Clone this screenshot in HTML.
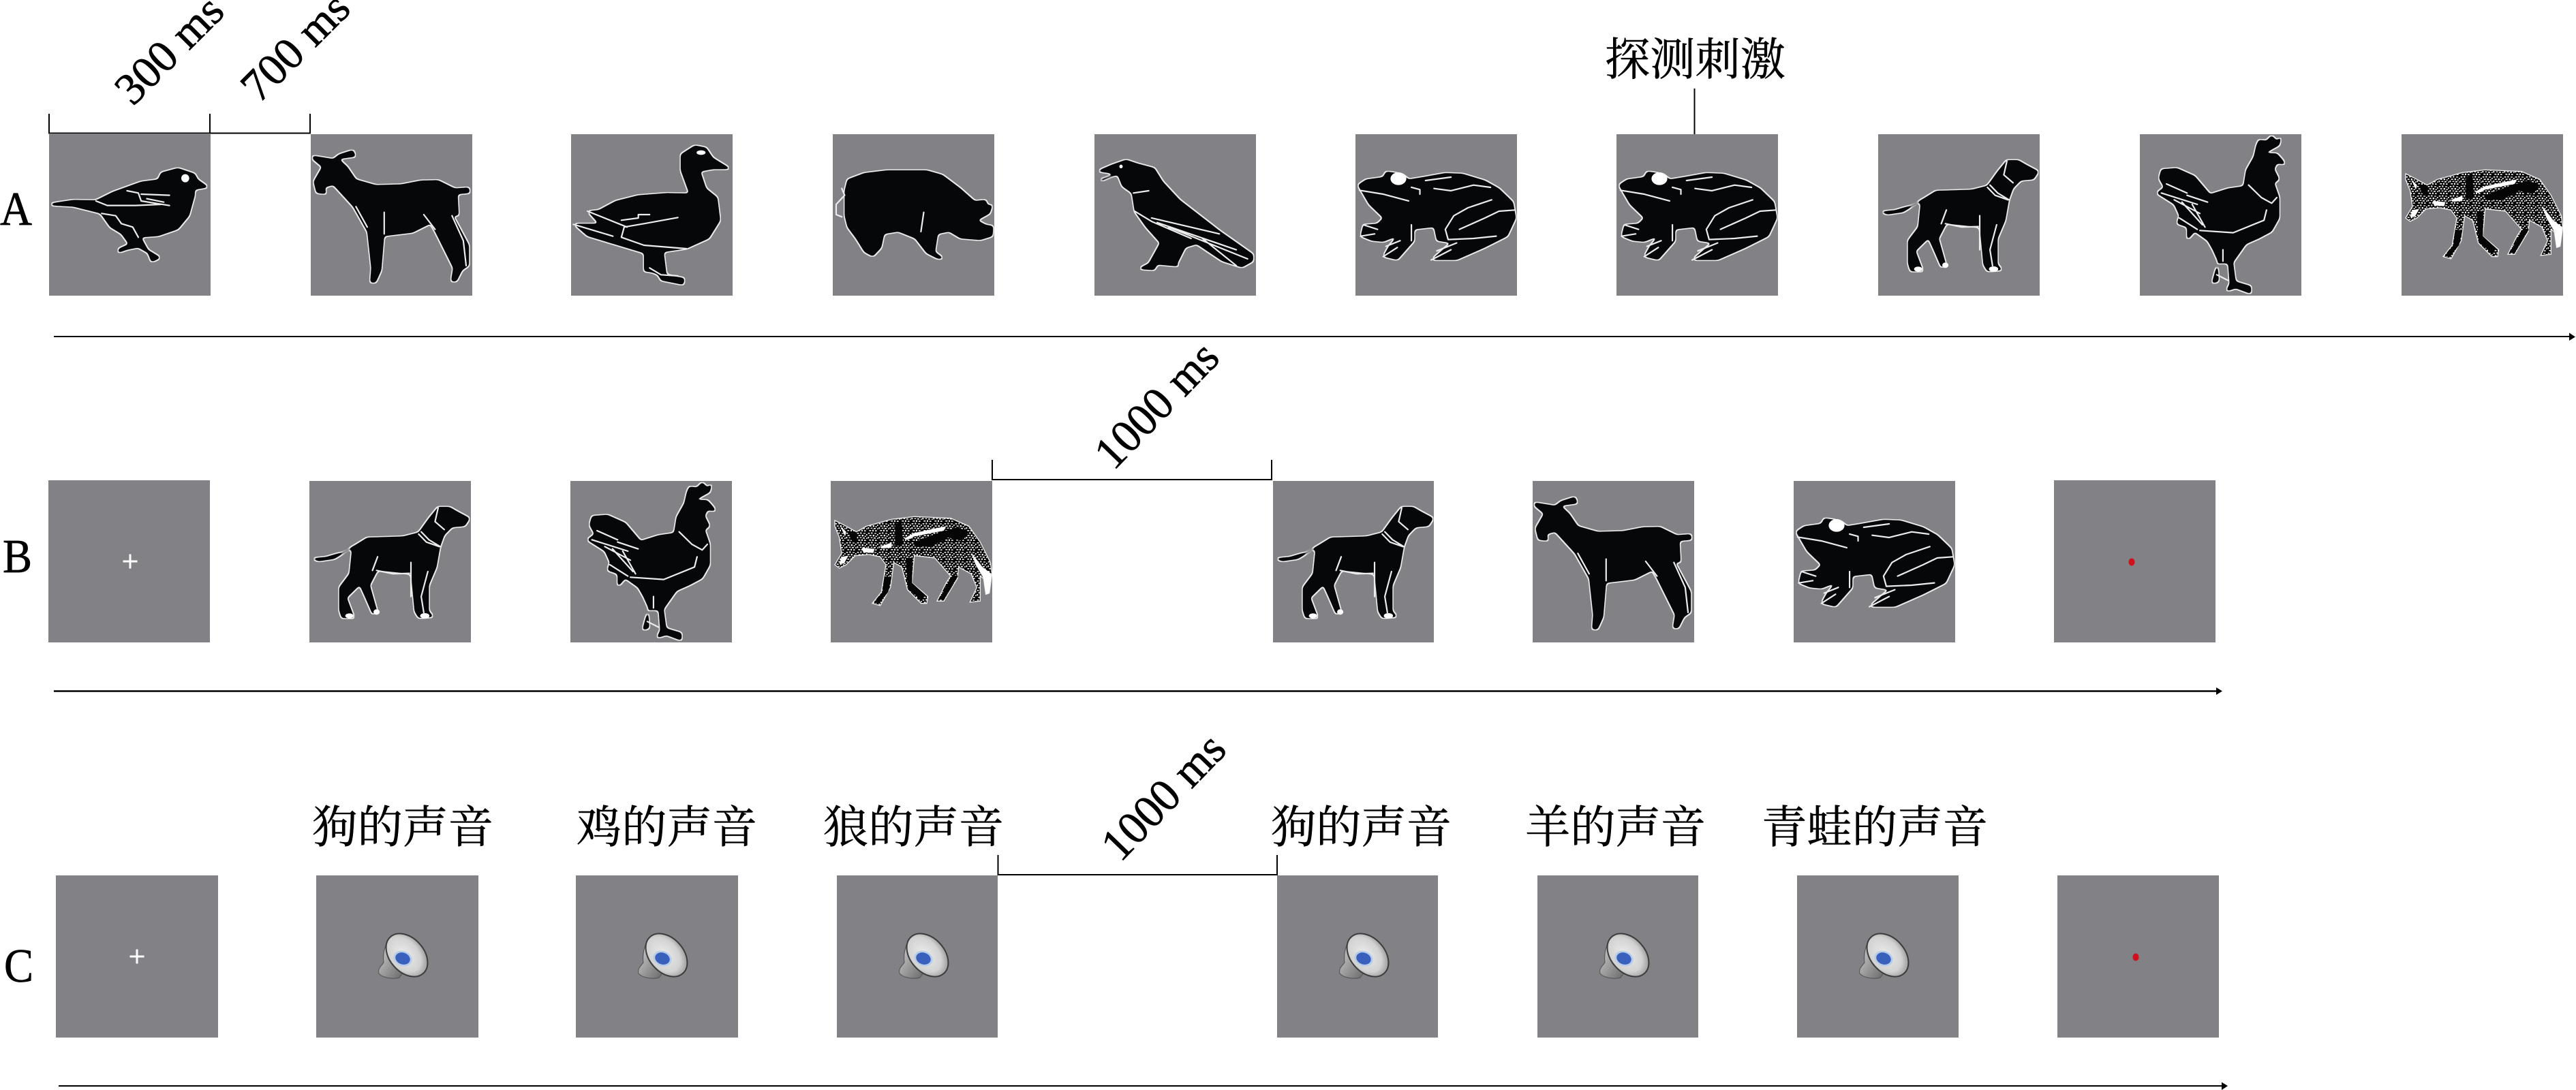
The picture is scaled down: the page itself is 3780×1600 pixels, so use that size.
<!DOCTYPE html>
<html lang="zh"><head><meta charset="utf-8"><title>实验流程</title>
<style>
html,body{margin:0;padding:0;background:#fff;width:3780px;height:1600px;overflow:hidden}
svg{display:block}
.b{fill:#828186}
.s{fill:#060709;stroke:none}
.sa{filter:url(#sm)}
.sb{filter:url(#sm2)}
.l{fill:none;stroke:#ececec;stroke-width:2.2;stroke-linejoin:round;stroke-linecap:round;vector-effect:non-scaling-stroke}
.w{fill:#fff}
.k{stroke:#000;fill:none;stroke-width:2}
.lat{font-family:"Liberation Serif",serif;fill:#000;stroke:#000;stroke-width:.7}
.cjk{font-family:"Liberation Serif","Noto Serif CJK SC",serif;font-size:66px;fill:#000;stroke:#000;stroke-width:.5}
</style></head><body>
<svg xmlns="http://www.w3.org/2000/svg" width="3780" height="1600" viewBox="0 0 3780 1600">
<defs>
<filter id="sm" x="-15%" y="-15%" width="130%" height="130%" color-interpolation-filters="sRGB">
<feGaussianBlur in="SourceAlpha" stdDeviation="3 7.5"/>
<feComponentTransfer result="shape"><feFuncA type="linear" slope="10" intercept="-4.5"/></feComponentTransfer>
<feMorphology in="shape" operator="dilate" radius="1.8 4.5" result="fat"/>
<feFlood flood-color="#ececec"/><feComposite in2="fat" operator="in" result="outline"/>
<feFlood flood-color="#060709"/><feComposite in2="shape" operator="in" result="core"/>
<feMerge><feMergeNode in="outline"/><feMergeNode in="core"/></feMerge>
</filter>
<filter id="sm2" x="-15%" y="-15%" width="130%" height="130%" color-interpolation-filters="sRGB">
<feGaussianBlur in="SourceAlpha" stdDeviation="3.3 7.5"/>
<feComponentTransfer result="shape"><feFuncA type="linear" slope="10" intercept="-4.5"/></feComponentTransfer>
<feMorphology in="shape" operator="dilate" radius="2 4.5" result="fat"/>
<feFlood flood-color="#ececec"/><feComposite in2="fat" operator="in" result="outline"/>
<feFlood flood-color="#060709"/><feComposite in2="shape" operator="in" result="core"/>
<feMerge><feMergeNode in="outline"/><feMergeNode in="core"/></feMerge>
</filter>
<pattern id="fur" width="48" height="42" patternUnits="userSpaceOnUse">
<rect width="48" height="42" fill="#050505"/>
<path d="M2 3h8v5H2zM16 1h6v7h-6zM30 4h9v4h-9zM42 9h5v6h-5zM8 13h9v5H8zM23 12h7v7h-7zM35 16h6v5h-6zM1 21h6v7H1zM14 23h8v4h-8zM27 24h9v5h-9zM42 25h5v5h-5zM7 33h9v5H7zM21 32h6v7h-6zM33 34h8v5h-8z" fill="#eee"/>
</pattern>
<radialGradient id="cone" cx=".45" cy=".55" r=".62"><stop offset="0" stop-color="#ececec"/><stop offset=".65" stop-color="#d2d2d2"/><stop offset="1" stop-color="#8c8c8c"/></radialGradient>
<linearGradient id="bk" x1="0" y1="0" x2="1" y2="1"><stop offset="0" stop-color="#e0e0e0"/><stop offset="1" stop-color="#5c5c5c"/></linearGradient>

<g id="bird" transform="scale(.8292 .3333) translate(-87 -591)">
<polygon class="s sa" points="90,895 130,880 170,882 200,845 250,800 280,790 285,760 315,740 345,765 350,790 370,825 345,835 345,860 335,950 315,1010 280,1040 250,1045 262,1100 285,1135 268,1155 262,1115 245,1090 225,1100 208,1115 210,1095 228,1075 215,1030 195,1000 178,940 130,910 90,905"/>
<ellipse class="w" cx="328" cy="785" rx="7" ry="18"/>
<path class="l" d="M225 840L245 850 250 885 300 905M250 855L300 860M260 875L290 890M170 885L190 905 240 905 285 900M180 940L205 950 215 985 235 1000 245 1045"/>
</g>

<g id="goat" transform="scale(.8292 .3333) translate(-550 -591)">
<polygon class="s sa" points="553,685 590,700 600,680 625,660 630,690 600,700 615,735 630,790 665,815 710,812 745,795 775,793 805,830 830,825 832,850 810,855 812,950 802,950 830,1080 830,1170 818,1190 808,1240 798,1240 802,1180 770,1020 762,985 730,1025 680,1040 675,1190 665,1245 655,1245 657,1180 650,1020 625,910 590,815 575,825 578,855 560,850 555,800 570,735 553,700"/>
<path class="l" d="M680 935L680 1030M630 910L650 1000M800 950L820 1060 825 1170M750 945L770 1010"/>
</g>

<g id="duck" transform="scale(.8292 .3333) translate(-1011 -591)">
<polygon class="s sa" points="1230,640 1250,650 1262,695 1295,745 1262,745 1240,755 1250,830 1270,870 1275,970 1255,1050 1215,1095 1175,1110 1180,1210 1212,1225 1210,1255 1170,1235 1165,1210 1155,1200 1140,1195 1140,1115 1100,1085 1040,1040 1015,985 1060,985 1040,930 1060,925 1090,885 1130,860 1180,850 1220,852 1205,750 1205,680"/>
<ellipse class="w" cx="1241" cy="672" rx="8" ry="10"/>
<path class="l" d="M1040 930L1110 1000M1015 988L1085 1040M1105 1000L1100 1045 1140 1080 1215 1095M1105 1000L1140 985 1200 958M1100 970L1130 960 1130 945 1150 945M1150 1180L1170 1210 1200 1215"/>
</g>

<g id="pig" transform="scale(.8292 .3333) translate(-1474 -591)">
<polygon class="s sa" points="1495,840 1500,790 1530,762 1570,750 1640,750 1668,770 1700,830 1725,885 1745,880 1748,905 1757,900 1752,940 1730,970 1745,990 1758,995 1757,1040 1735,1057 1700,1050 1680,1020 1660,1030 1655,1110 1672,1140 1660,1140 1640,1115 1620,1050 1590,1020 1565,1030 1560,1090 1545,1130 1530,1110 1515,1050 1500,1000 1495,950"/>
<path class="l" d="M1490 830L1495 860 1480 900 1480 945 1490 955M1635 935L1630 1020"/>
</g>

<g id="crow" transform="scale(.8292 .3333) translate(-369 -591)">
<polygon class="s sa" points="372,755 400,725 425,703 445,720 475,740 490,800 520,880 590,1015 650,1120 650,1150 630,1178 595,1150 550,1075 530,1090 515,1165 523,1175 480,1165 475,1190 445,1185 465,1160 485,1070 460,1000 440,930 435,850 418,820 410,770 380,800 378,790 405,765"/>
<ellipse class="w" cx="416" cy="733" rx="3" ry="8"/>
<path class="l" d="M470 960L590 1030M480 980L620 1100M500 1000L640 1140M560 1050L620 1170M438 850L465 840M440 930L470 975 540 1050"/>
</g>

<g id="frog" transform="scale(.8292 .3333) translate(-831 -591)">
<polygon class="s sa" points="835,815 850,790 880,780 885,755 900,760 915,770 925,790 950,780 990,762 1020,765 1060,795 1085,830 1110,890 1115,960 1100,1040 1060,1090 1010,1145 965,1145 990,1090 1000,1070 975,1060 970,1000 935,1010 935,1060 905,1145 880,1130 890,1085 905,1040 880,1065 860,1060 840,1040 845,990 870,985 880,960 855,900"/>
<ellipse class="w" cx="907" cy="787" rx="14" ry="28"/>
<path class="l" d="M838 838L880 855 925 885M930 825L945 835 945 855M970 830L1000 840 1040 815 1070 825M1072 880L1030 915 1005 950 990 1010 995 1055M1015 1010L1060 960 1085 930 1113 925M995 1055L1040 1050 1080 1040M930 990L930 1060M845 990L870 1010M840 1040L865 1030M880 1130L905 1090M885 1085L910 1060M965 1145L1000 1100M975 1105L1010 1070M955 795L1000 780"/>
</g>

<g id="dog" transform="scale(.7526 .3333) translate(-207 -591)">
<polygon class="s sb" points="208,932 240,925 270,905 295,875 320,840 350,838 390,835 420,818 440,755 458,705 480,705 495,725 520,755 510,790 485,795 470,830 462,880 455,970 440,1050 440,1165 450,1190 420,1195 412,1165 405,1000 340,985 325,1050 340,1170 330,1178 315,1100 305,1050 280,1105 295,1195 270,1195 265,1160 265,1060 285,1000 290,890 255,935 225,945"/>
<path class="l" d="M458 710L452 770 470 805M425 815L440 850 462 880M420 825L435 860 460 880M338 985L370 1000 402 998M340 925L330 985M405 950L405 1100M438 990L425 1100 430 1170"/>
<ellipse class="w" cx="338" cy="1168" rx="6" ry="12"/><ellipse class="w" cx="432" cy="1185" rx="9" ry="12"/><ellipse class="w" cx="285" cy="1185" rx="8" ry="11"/>
</g>

<g id="rooster" transform="scale(.7526 .3333) translate(-718 -591)">
<polygon class="s sb" points="945,640 950,615 965,620 975,595 985,620 995,595 990,640 970,665 955,675 985,675 995,700 1003,725 985,720 980,745 990,790 980,805 990,870 990,960 975,1020 950,1050 925,1075 900,1155 905,1240 935,1260 935,1295 905,1270 885,1285 893,1250 890,1160 870,1160 872,1240 858,1250 870,1150 860,1100 850,1060 825,1020 810,1060 810,1000 790,985 795,950 785,900 750,850 765,825 755,785 760,745 790,740 825,775 855,855 890,830 920,820 925,750 940,690"/>
<path class="l" d="M770 810L810 850M760 850L830 900M785 880L835 940M795 960L830 1010M810 860L850 890M800 890L840 990M820 900L845 1000M930 815L955 870 975 895 985 870M835 1015L900 1025 960 970 965 925M880 1100L880 1150M868 1210L890 1235"/>
</g>

<g id="wolf" transform="translate(6 33) scale(.3333)">
<polygon points="0,75 40,95 95,125 140,100 250,70 350,58 510,65 590,100 640,170 685,260 692,310 680,395 665,400 655,330 640,320 640,430 595,435 625,370 600,310 545,280 540,330 480,430 450,430 490,350 510,320 440,240 350,230 340,350 410,410 405,440 380,440 320,380 295,280 260,260 245,370 200,450 165,440 205,390 225,270 200,235 150,225 90,230 50,270 20,285 0,270 30,220 20,150 0,100" fill="url(#fur)" stroke="#eee" stroke-width="4"/>
<path d="M265 90L295 85 300 180 265 190ZM350 170L470 125 540 105 590 125 560 165 500 150 420 190 350 190ZM312 240L342 240 340 350 400 405 380 425 322 375ZM218 320L250 325 235 390 195 440 172 438 210 390ZM520 315L543 320 480 420 458 422 500 350ZM60 120L100 135 95 175 70 160Z" fill="#050505"/>
<path d="M305 155L350 130 490 100 480 120 350 145 320 160ZM600 215L650 280 690 310 680 395 665 400 655 330 620 270ZM200 190L250 172 250 195 205 198ZM120 195L175 200 170 218 125 215ZM30 235L60 230 40 265 20 265ZM25 100L50 125 45 145Z" fill="#fff"/>
</g>

<g id="spk">
<path d="M112 88C102 96 97 114 99 128 94 134 90 138 92 144 97 150 112 153 122 150L135 132 118 95Z" fill="url(#bk)" stroke="#5a5a5a" stroke-width="1.2"/>
<ellipse cx="133" cy="117" rx="36" ry="25" transform="rotate(48 133 117)" fill="url(#cone)" stroke="#3c3c3c" stroke-width="2"/>
<ellipse cx="127" cy="122" rx="14" ry="11" transform="rotate(20 127 122)" fill="#b7cce8"/>
<ellipse cx="127" cy="122" rx="11" ry="8.5" transform="rotate(20 127 122)" fill="#3a60bd"/>
</g>
</defs>

<rect width="3780" height="1600" fill="#fff"/>

<!-- Row A -->
<rect class="b" x="72" y="197" width="237" height="237"/><rect class="b" x="456" y="197" width="237" height="237"/><rect class="b" x="838" y="197" width="237" height="237"/><rect class="b" x="1222" y="197" width="237" height="237"/><rect class="b" x="1606" y="197" width="237" height="237"/><rect class="b" x="1989" y="197" width="237" height="237"/><rect class="b" x="2372" y="197" width="237" height="237"/><rect class="b" x="2756" y="197" width="237" height="237"/><rect class="b" x="3140" y="197" width="237" height="237"/><rect class="b" x="3524" y="197" width="237" height="237"/>
<use href="#bird" x="72" y="197"/><use href="#goat" x="456" y="197"/><use href="#duck" x="838" y="197"/><use href="#pig" x="1222" y="197"/><use href="#crow" x="1606" y="197"/><use href="#frog" x="1989" y="197"/><use href="#frog" x="2372" y="197"/><use href="#dog" x="2756" y="197"/><use href="#rooster" x="3140" y="197"/><use href="#wolf" x="3524" y="197"/>

<path class="k" d="M72 167V196M308 167V196M455 167V196M71 195.5H456"/>
<path class="k" d="M2486.5 130V197"/>
<text class="lat" font-size="66" textLength="194" lengthAdjust="spacingAndGlyphs" transform="translate(195 157) rotate(-45)">300 ms</text>
<text class="lat" font-size="66" textLength="194" lengthAdjust="spacingAndGlyphs" transform="translate(380 153) rotate(-45)">700 ms</text>
<text class="cjk" x="2355" y="110" textLength="265" lengthAdjust="spacingAndGlyphs">探测刺激</text>
<text class="lat" x="0" y="330" font-size="70" textLength="47" lengthAdjust="spacingAndGlyphs">A</text>
<path d="M79 494H3771" stroke="#000" stroke-width="2" fill="none"/><polygon points="3770,488.5 3779,494.5 3770,500"/>

<!-- Row B -->
<rect class="b" x="71" y="705" width="237" height="238"/><rect class="b" x="454" y="706" width="237" height="237"/><rect class="b" x="837" y="706" width="237" height="237"/><rect class="b" x="1219" y="706" width="237" height="237"/><rect class="b" x="1868" y="706" width="236" height="237"/><rect class="b" x="2249" y="706" width="237" height="237"/><rect class="b" x="2632" y="706" width="237" height="237"/><rect class="b" x="3014" y="705" width="237" height="238"/>
<use href="#dog" x="454" y="706"/><use href="#rooster" x="837" y="706"/><use href="#wolf" x="1219" y="706"/><use href="#dog" x="1868" y="706"/><use href="#goat" x="2249" y="706"/><use href="#frog" x="2632" y="706"/>
<path d="M180.5 824H201.5M191 813.5V834.5" stroke="#fff" stroke-width="3" fill="none"/>
<ellipse cx="3128" cy="825" rx="4.5" ry="5.5" fill="#d0101a"/>
<path class="k" d="M1456 675V704M1866 675V704M1455 704H1867"/>
<text class="lat" font-size="68" textLength="228" lengthAdjust="spacingAndGlyphs" transform="translate(1634 692) rotate(-46)">1000 ms</text>
<text class="lat" x="4" y="840" font-size="70" textLength="43" lengthAdjust="spacingAndGlyphs">B</text>
<path d="M79 1014.5H3255" stroke="#000" stroke-width="2.5" fill="none"/><polygon points="3252,1009 3261,1014.5 3252,1020"/>

<!-- Row C -->
<rect class="b" x="82" y="1285" width="238" height="238"/><rect class="b" x="464" y="1285" width="238" height="238"/><rect class="b" x="845" y="1285" width="238" height="238"/><rect class="b" x="1228" y="1285" width="236" height="238"/><rect class="b" x="1874" y="1285" width="236" height="238"/><rect class="b" x="2256" y="1285" width="236" height="238"/><rect class="b" x="2637" y="1285" width="237" height="238"/><rect class="b" x="3019" y="1285" width="237" height="238"/>
<use href="#spk" x="464" y="1285"/><use href="#spk" x="845" y="1285"/><use href="#spk" x="1228" y="1285"/><use href="#spk" x="1874" y="1285"/><use href="#spk" x="2256" y="1285"/><use href="#spk" x="2637" y="1285"/>
<path d="M190.5 1404H211.5M201 1393.5V1414.5" stroke="#fff" stroke-width="3" fill="none"/>
<ellipse cx="3134" cy="1405" rx="4.5" ry="5.5" fill="#d0101a"/>
<path class="k" d="M1464.5 1255V1285M1874 1255V1285M1464 1284H1875"/>
<text class="lat" font-size="68" textLength="228" lengthAdjust="spacingAndGlyphs" transform="translate(1644 1267) rotate(-46)">1000 ms</text>
<text class="cjk" x="458" y="1237" textLength="266" lengthAdjust="spacingAndGlyphs">狗的声音</text>
<text class="cjk" x="846" y="1237" textLength="265" lengthAdjust="spacingAndGlyphs">鸡的声音</text>
<text class="cjk" x="1208" y="1237" textLength="265" lengthAdjust="spacingAndGlyphs">狼的声音</text>
<text class="cjk" x="1865" y="1237" textLength="265" lengthAdjust="spacingAndGlyphs">狗的声音</text>
<text class="cjk" x="2238" y="1237" textLength="265" lengthAdjust="spacingAndGlyphs">羊的声音</text>
<text class="cjk" x="2585" y="1237" textLength="332" lengthAdjust="spacingAndGlyphs">青蛙的声音</text>
<text class="lat" x="6" y="1441" font-size="70" textLength="43" lengthAdjust="spacingAndGlyphs">C</text>
<path d="M86 1594H3263" stroke="#000" stroke-width="2" fill="none"/><polygon points="3260,1588.5 3269,1594 3260,1600"/>
</svg>
</body></html>
